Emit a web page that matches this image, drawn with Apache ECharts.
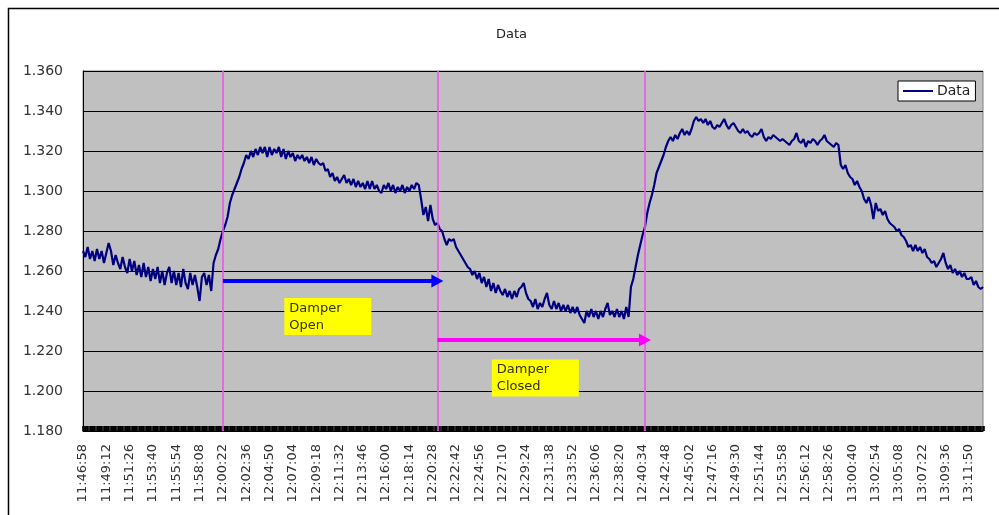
<!DOCTYPE html>
<html>
<head>
<meta charset="utf-8">
<script src="https://cdn.jsdelivr.net/npm/echarts@6/dist/echarts.min.js"></script>
<style>
html,body{margin:0;padding:0;background:#fff;}
#chart{width:999px;height:515px;}
</style>
</head>
<body>
<div id="chart"></div>
<script>
// Tick labels shown on the x axis (one every 10 samples)
const tickLabels = [
"11:46:58","11:49:12","11:51:26","11:53:40","11:55:54","11:58:08","12:00:22","12:02:36",
"12:04:50","12:07:04","12:09:18","12:11:32","12:13:46","12:16:00","12:18:14","12:20:28",
"12:22:42","12:24:56","12:27:10","12:29:24","12:31:38","12:33:52","12:36:06","12:38:20",
"12:40:34","12:42:48","12:45:02","12:47:16","12:49:30","12:51:44","12:53:58","12:56:12",
"12:58:26","13:00:40","13:02:54","13:05:08","13:07:22","13:09:36","13:11:50"
];
const samplesPerLabel = 10;

// Series values
const values = [
1.270,1.267,1.272,1.266,1.270,1.265,1.271,1.266,1.270,1.264,
1.269,1.274,1.270,1.263,1.268,1.264,1.261,1.267,1.262,1.259,
1.266,1.260,1.265,1.258,1.263,1.257,1.264,1.257,1.262,1.255,
1.261,1.256,1.262,1.254,1.260,1.253,1.259,1.262,1.254,1.260,
1.253,1.259,1.252,1.261,1.254,1.251,1.259,1.253,1.258,1.252,
1.245,1.257,1.259,1.253,1.258,1.250,1.264,1.268,1.271,1.276,
1.280,1.283,1.287,1.294,1.298,1.301,1.304,1.307,1.311,1.314,
1.318,1.316,1.320,1.317,1.321,1.318,1.322,1.319,1.322,1.317,
1.322,1.318,1.321,1.319,1.322,1.317,1.321,1.316,1.320,1.317,
1.319,1.315,1.318,1.316,1.318,1.315,1.317,1.314,1.317,1.313,
1.316,1.314,1.313,1.314,1.310,1.311,1.307,1.309,1.305,1.307,
1.304,1.306,1.308,1.304,1.306,1.303,1.306,1.302,1.305,1.302,
1.304,1.301,1.305,1.301,1.305,1.301,1.303,1.300,1.299,1.303,
1.301,1.304,1.300,1.303,1.299,1.302,1.300,1.303,1.299,1.302,
1.300,1.303,1.301,1.304,1.303,1.296,1.288,1.292,1.285,1.293,
1.286,1.283,1.284,1.281,1.280,1.276,1.273,1.276,1.275,1.276,
1.272,1.270,1.268,1.266,1.264,1.262,1.261,1.258,1.260,1.256,
1.259,1.254,1.257,1.252,1.256,1.250,1.254,1.249,1.253,1.250,
1.248,1.251,1.247,1.250,1.246,1.250,1.247,1.251,1.252,1.254,
1.249,1.246,1.245,1.242,1.246,1.241,1.244,1.242,1.246,1.249,
1.243,1.241,1.245,1.241,1.244,1.240,1.243,1.240,1.243,1.239,
1.242,1.239,1.242,1.238,1.236,1.234,1.240,1.237,1.241,1.237,
1.240,1.236,1.240,1.237,1.241,1.244,1.238,1.240,1.237,1.241,
1.237,1.240,1.236,1.242,1.237,1.252,1.256,1.262,1.268,1.273,
1.278,1.282,1.289,1.294,1.298,1.303,1.309,1.312,1.315,1.318,
1.322,1.325,1.327,1.325,1.328,1.326,1.329,1.331,1.328,1.330,
1.328,1.331,1.335,1.337,1.335,1.336,1.334,1.336,1.333,1.335,
1.332,1.331,1.333,1.332,1.334,1.336,1.333,1.331,1.333,1.334,
1.332,1.330,1.329,1.331,1.329,1.330,1.328,1.327,1.329,1.328,
1.329,1.331,1.327,1.325,1.327,1.326,1.328,1.327,1.326,1.325,
1.326,1.325,1.324,1.323,1.325,1.326,1.329,1.325,1.324,1.326,
1.322,1.325,1.324,1.326,1.325,1.323,1.325,1.326,1.328,1.325,
1.324,1.323,1.322,1.324,1.323,1.313,1.311,1.313,1.309,1.307,
1.306,1.303,1.305,1.302,1.300,1.296,1.294,1.297,1.293,1.286,
1.294,1.290,1.291,1.288,1.290,1.286,1.284,1.283,1.282,1.280,
1.281,1.278,1.277,1.275,1.272,1.273,1.270,1.273,1.270,1.272,
1.269,1.271,1.267,1.266,1.264,1.265,1.262,1.264,1.266,1.269,
1.264,1.261,1.263,1.259,1.261,1.258,1.260,1.257,1.259,1.256,
1.256,1.257,1.253,1.255,1.252,1.251,1.252
];

// Y axis range
const yMin = 1.18, yMax = 1.36, yStep = 0.02;

// Annotations (in data coordinates: sample index, value)
const markerIndices = [60, 152, 241];
const openArrow = {from: 60, to: 152, value: 1.255};
const closedArrow = {from: 152, to: 241, value: 1.2255};
const notes = [
  {text: "Damper\nOpen", index: 105, value: 1.2373},
  {text: "Damper\nClosed", index: 194, value: 1.2065}
];

const categories = values.map((v, i) => String(i));

const chart = echarts.init(document.getElementById('chart'), null, {renderer: 'canvas'});

const FONT = 'DejaVu Sans';

chart.setOption({
  animation: false,
  backgroundColor: '#ffffff',
  textStyle: {fontFamily: FONT},
  graphic: [
    {type: 'polyline', shape: {points: [[8.5, 520], [8.5, 8.5], [1010, 8.5]]},
     style: {stroke: '#000', lineWidth: 1.5, fill: null}, silent: true}
  ],
  title: {
    text: 'Data', left: 491, top: 23,
    textStyle: {fontFamily: FONT, fontSize: 13, fontWeight: 'normal', color: '#222'}
  },
  legend: {
    left: 898, top: 81,
    orient: 'horizontal',
    backgroundColor: '#ffffff',
    borderColor: '#000', borderWidth: 1, borderRadius: 0,
    padding: [3, 5, 3, 5],
    itemWidth: 30, itemHeight: 2, itemGap: 4,
    icon: 'rect',
    textStyle: {fontFamily: FONT, fontSize: 14, color: '#222', padding: [0, 0, 0, -1]},
    data: ['Data']
  },
  grid: {
    left: 83, top: 71, width: 900, height: 360,
    show: true, backgroundColor: '#c0c0c0', borderColor: '#808080', borderWidth: 1
  },
  xAxis: {
    type: 'category',
    data: categories,
    boundaryGap: false,
    axisLine: {show: true, lineStyle: {color: '#000', width: 1}},
    axisTick: {show: true, inside: true, interval: 0, length: 5, lineStyle: {color: '#000', width: 2.6}},
    axisLabel: {
      interval: samplesPerLabel - 1,
      rotate: 90,
      margin: 13,
      fontFamily: FONT, fontSize: 13, color: '#333',
      formatter: (val, idx) => idx % samplesPerLabel === 0 ? tickLabels[idx / samplesPerLabel] : ''
    },
    splitLine: {show: false}
  },
  yAxis: {
    type: 'value',
    min: yMin, max: yMax, interval: yStep,
    axisLine: {show: true, lineStyle: {color: '#000', width: 1}},
    axisTick: {show: false},
    axisLabel: {
      margin: 20, fontFamily: FONT, fontSize: 14, color: '#333',
      formatter: v => v.toFixed(3)
    },
    splitLine: {show: true, lineStyle: {color: '#000', width: 1}}
  },
  series: [{
    name: 'Data',
    type: 'line',
    data: values,
    showSymbol: false,
    symbol: 'none',
    color: '#000080',
    lineStyle: {color: '#000080', width: 2.2},
    z: 3,
    markLine: {
      silent: true,
      animation: false,
      symbol: ['none', 'none'],
      label: {show: false},
      emphasis: {disabled: true},
      data: [
        ...markerIndices.map(ix => ({
          xAxis: ix,
          lineStyle: {color: '#ee55ee', width: 1.6, type: 'solid', opacity: 1}
        })),
        [
          {coord: [openArrow.from, openArrow.value], symbol: 'none',
           lineStyle: {color: '#0000ff', width: 4, type: 'solid', opacity: 1}},
          {coord: [openArrow.to, openArrow.value], symbol: 'triangle', symbolSize: [13, 12], symbolRotate: -90}
        ],
        [
          {coord: [closedArrow.from, closedArrow.value], symbol: 'none',
           lineStyle: {color: '#ff00ff', width: 4, type: 'solid', opacity: 1}},
          {coord: [closedArrow.to, closedArrow.value], symbol: 'triangle', symbolSize: [13, 12], symbolRotate: -90}
        ]
      ]
    },
    markPoint: {
      silent: true,
      animation: false,
      data: notes.map(n => ({
        coord: [n.index, n.value],
        symbol: 'rect',
        symbolSize: [87, 37],
        itemStyle: {color: '#ffff00'},
        label: {
          show: true,
          formatter: n.text,
          position: [5, 2],
          align: 'left',
          verticalAlign: 'top',
          lineHeight: 17,
          fontFamily: FONT, fontSize: 13, color: '#333300'
        }
      }))
    }
  }]
});
</script>
</body>
</html>
